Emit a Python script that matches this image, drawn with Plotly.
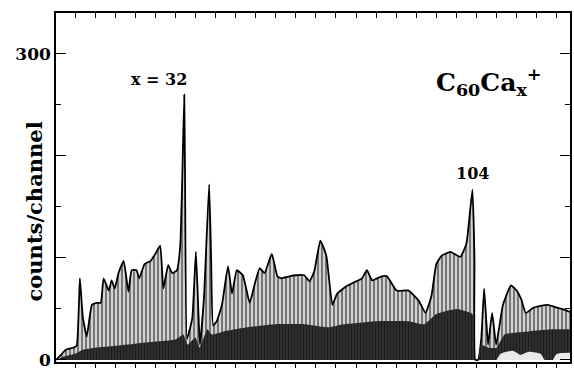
import plotly.graph_objects as go

# Number of Ca atoms (x) and envelope counts/channel
env_x = [0.25, 1.5, 2.7, 4.5, 5.4, 6.2, 6.9, 7.9, 9.2, 10.4, 11.4, 12.1, 13.4, 14.1, 14.9, 15.8,
         17.1, 18.3, 19.1, 20.3, 21.0, 22.3, 23.8, 25.0, 26.2, 27.0, 28.2, 29.2, 30.4, 31.2,
         31.7, 32.2, 32.4, 32.9, 34.2, 35.1, 35.6, 36.1, 37.1, 38.4, 38.9, 39.4, 40.3, 41.6,
         43.1, 44.1, 45.3, 46.8, 48.5, 49.8, 51.0, 52.2, 54.0, 55.4, 56.4, 58.4, 60.1, 62.1,
         63.4, 64.6, 66.1, 67.6, 69.1, 70.3, 72.5, 75.0, 76.5, 77.7, 79.0, 81.4, 82.7, 85.1,
         88.1, 90.6, 92.3, 93.8, 95.0, 96.3, 98.5, 101.0, 102.5, 103.2, 104.0, 104.5, 104.7,
         105.4, 106.2, 106.9, 107.4, 107.9, 108.9, 109.9, 111.6, 113.6, 115.0, 116.1, 117.3,
         119.1, 121.0, 122.8, 125.2, 127.0, 128.3]
env_y = [0, 5, 10, 12, 14, 80, 43, 23, 54, 56, 56, 80, 68, 78, 70, 85,
         97, 67, 88, 88, 80, 94, 97, 104, 112, 70, 93, 85, 88, 112,
         177, 260, 177, 21, 41, 106, 60, 15, 60, 172, 99, 34, 38, 54,
         92, 65, 88, 83, 56, 75, 90, 85, 104, 82, 80, 82, 83, 83,
         77, 87, 117, 102, 54, 65, 72, 77, 80, 88, 78, 82, 82, 68,
         68, 58, 46, 63, 94, 102, 106, 101, 114, 138, 167, 99, 0,
         0, 21, 70, 41, 15, 46, 15, 54, 73, 68, 60, 46,
         51, 53, 54, 51, 49, 47]

# Dense (dark) lower part of the spectrum
dark_x = [0.25, 2, 5, 7, 10, 15, 20, 25, 30, 32, 33, 35, 36, 38, 39, 42, 48, 55, 62, 68,
          72, 80, 88, 92, 95, 100, 104, 104.6, 105.5, 106, 108, 110, 112, 118, 124, 128.3]
dark_y = [0, 3, 6, 10, 12, 14, 16, 18, 20, 25, 15, 22, 12, 30, 25, 28, 32, 35, 35, 32,
          35, 38, 38, 35, 45, 50, 45, 0, 0, 15, 12, 12, 25, 28, 30, 30]

# Empty strip near the baseline on the right
floor_x = [110, 111, 114, 116, 118, 121, 122, 124, 125, 128.3]
floor_y = [0, 6, 9, 5, 8, 6, 0, 0, 6, 7]

x_range = [0.25, 128.3]
top_tickvals = [5 * i for i in range(1, 26)]
y_tickvals = [0, 100, 200, 300]
y_ticktext = ["0", "", "", "300"]

serif = "DejaVu Serif"

fig = go.Figure()
fig.add_trace(go.Scatter(
    x=env_x, y=env_y, mode="lines", fill="tozeroy",
    line=dict(color="black", width=1.8, shape="spline", smoothing=0.4),
    fillpattern=dict(shape="|", fgcolor="#111111", bgcolor="#dcdcdc", size=4, solidity=0.55),
    showlegend=False, hoverinfo="skip"))
fig.add_trace(go.Scatter(
    x=dark_x, y=dark_y, mode="lines", fill="tozeroy",
    line=dict(color="rgba(0,0,0,0)", width=0, shape="spline", smoothing=0.4),
    fillpattern=dict(shape="|", fgcolor="#000000", bgcolor="#3a3a3a", size=3, solidity=0.6),
    showlegend=False, hoverinfo="skip"))
fig.add_trace(go.Scatter(
    x=floor_x, y=floor_y, mode="lines", fill="tozeroy", xaxis="x2",
    line=dict(color="rgba(0,0,0,0)", width=0, shape="spline", smoothing=0.5),
    fillcolor="rgba(255,255,255,0.9)", showlegend=False, hoverinfo="skip"))

fig.update_layout(
    width=574, height=372,
    margin=dict(l=56, r=2, t=13, b=9),
    paper_bgcolor="white", plot_bgcolor="white",
    font=dict(family=serif, color="black"),
    xaxis=dict(range=x_range, showgrid=False, zeroline=False,
               showline=True, linecolor="black", linewidth=1.5, mirror=True,
               ticks="outside", tickmode="linear", dtick=5, tick0=0, ticklen=4, tickwidth=1,
               tickcolor="black", showticklabels=False),
    xaxis2=dict(range=x_range, overlaying="x", side="top", anchor="y", showgrid=False,
                zeroline=False, showline=False, ticks="inside", tickmode="array",
                tickvals=top_tickvals, ticklen=5, tickwidth=1, tickcolor="black",
                showticklabels=False),
    yaxis=dict(range=[-2, 340], showgrid=False, zeroline=False,
               showline=True, linecolor="black", linewidth=1.5, mirror="ticks",
               ticks="inside", tickvals=y_tickvals, ticktext=y_ticktext, ticklen=10,
               tickwidth=1.2, tickcolor="black",
               tickfont=dict(family=serif, size=17, weight="bold"),
               minor=dict(dtick=50, tick0=0, ticklen=5, ticks="inside", tickcolor="black")),
)

fig.add_annotation(text="x = 32", x=25.8, y=275, xref="x", yref="y", showarrow=False,
                   font=dict(family=serif, size=16, weight="bold"))
fig.add_annotation(text="104", x=104, y=183, xref="x", yref="y", showarrow=False,
                   font=dict(family=serif, size=16, weight="bold"))
fig.add_annotation(text="C<sub>60</sub>Ca<sub>x</sub><sup>+</sup>", x=108, y=272,
                   xref="x", yref="y", showarrow=False,
                   font=dict(family=serif, size=25, weight="bold"))
fig.add_annotation(text="counts/channel", x=-0.07, y=0.43, xref="paper", yref="paper",
                   textangle=-90, showarrow=False,
                   font=dict(family=serif, size=21, weight="bold"))

fig.write_html("out.html")
